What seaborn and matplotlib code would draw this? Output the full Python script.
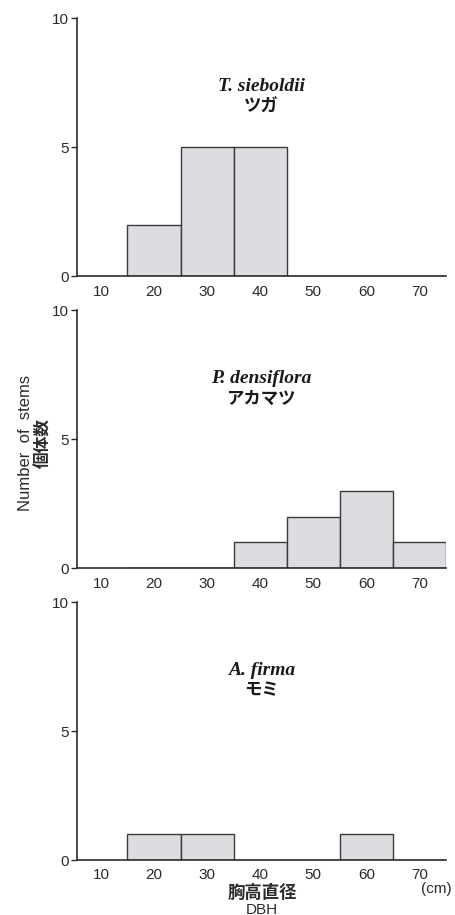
import numpy as np
import pandas as pd
import matplotlib
matplotlib.use('Agg')
import matplotlib.pyplot as plt
import seaborn as sns

# DBH class centres (cm) and stem counts per species
class_centres = [20, 30, 40, 50, 60, 70]
tsuga_counts = [2, 5, 5, 0, 0, 0]
pinus_counts = [0, 0, 1, 2, 3, 1]
abies_counts = [1, 1, 0, 0, 1, 0]

species_latin = ['T. sieboldii', 'P. densiflora', 'A. firma']
species_jp = ['ツガ', 'アカマツ', 'モミ']
x_ticks = [10, 20, 30, 40, 50, 60, 70]
y_ticks = [0, 5, 10]

sns.set_theme(style='ticks')
plt.rcParams['font.family'] = ['Liberation Sans', 'Noto Sans CJK JP', 'DejaVu Sans']

fig = plt.figure(figsize=(4.56, 9.15), dpi=100)
tops = [0.980, 0.661, 0.342]
height = 0.282
left, width = 0.169, 0.809

ink = '#2b2b2b'

for i, counts in enumerate([tsuga_counts, pinus_counts, abies_counts]):
    ax = fig.add_axes([left, tops[i] - height, width, height])
    df = pd.DataFrame({'dbh': class_centres, 'n': counts})
    sns.histplot(data=df, x='dbh', weights='n', binwidth=10, binrange=(15, 75), ax=ax,
                 color='#dcdde0', edgecolor='#3a3a3a', linewidth=1.0, alpha=1)
    ax.set_xlim(5.5, 75)
    ax.set_ylim(0, 10)
    ax.set_xticks(x_ticks)
    ax.set_yticks(y_ticks)
    ax.set_xlabel('')
    ax.set_ylabel('')
    sns.despine(ax=ax)
    for s in ['left', 'bottom']:
        ax.spines[s].set_color(ink)
        ax.spines[s].set_linewidth(1.2)
    ax.tick_params(axis='x', length=0, pad=6, labelsize=11, colors=ink)
    ax.tick_params(axis='y', length=4, width=1, pad=2, labelsize=11, colors=ink)
    ax.set_facecolor('white')
    ax.text(40.2, 7.36, species_latin[i], ha='center', va='center',
            fontsize=14, fontweight='bold', fontstyle='italic',
            family='Liberation Serif', color='#1a1a1a')
    ax.text(40.2, 6.58, species_jp[i], ha='center', va='center',
            fontsize=12.5, fontweight='bold', family=['Noto Sans CJK JP'],
            color='#1a1a1a')

fig.text(0.055, 0.516, 'Number  of  stems', rotation=90, ha='center', va='center',
         fontsize=12, color=ink)
fig.text(0.095, 0.516, '個体数', rotation=90, ha='center', va='center',
         fontsize=12, fontweight='bold', family=['Noto Sans CJK JP'], color=ink)
fig.text(0.575, 0.024, '胸高直径', ha='center', va='center',
         fontsize=12.5, fontweight='bold', family=['Noto Sans CJK JP'], color=ink)
fig.text(0.575, -0.002, 'DBH', ha='center', va='bottom', fontsize=11, color=ink)
fig.text(0.956, 0.028, '(cm)', ha='center', va='center', fontsize=11, color=ink)

fig.savefig('out.png', dpi=100, facecolor='white')
